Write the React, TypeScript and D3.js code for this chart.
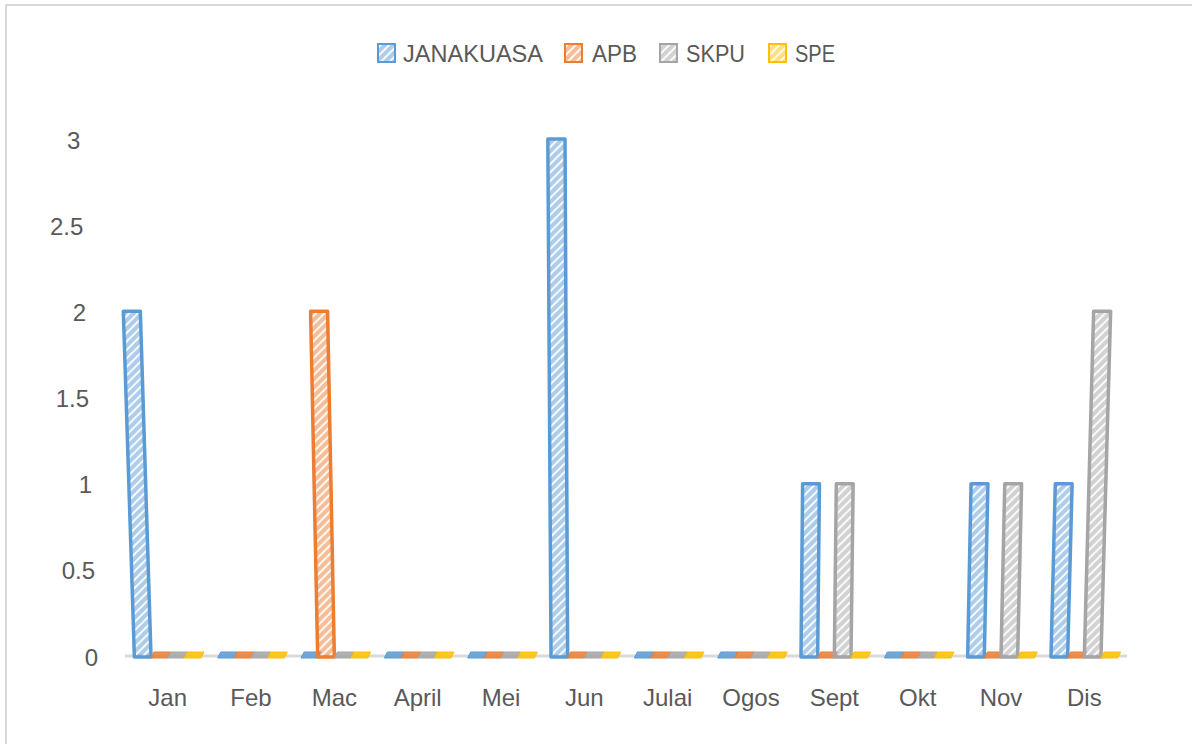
import React from "react";
import * as d3 from "d3";

const months = ["Jan", "Feb", "Mac", "April", "Mei", "Jun", "Julai", "Ogos", "Sept", "Okt", "Nov", "Dis"];
const seriesNames = ["JANAKUASA", "APB", "SKPU", "SPE"];
const janakuasa = [2, 0, 0, 0, 0, 3, 0, 0, 1, 0, 1, 1];
const apb = [0, 0, 2, 0, 0, 0, 0, 0, 0, 0, 0, 0];
const skpu = [0, 0, 0, 0, 0, 0, 0, 0, 1, 0, 1, 2];
const spe = [0, 0, 0, 0, 0, 0, 0, 0, 0, 0, 0, 0];
const yTicks = [0, 0.5, 1, 1.5, 2, 2.5, 3];

const COLORS = ["#5b9bd5", "#ed7d31", "#a5a5a5", "#ffc000"];
const FONT = "'Liberation Sans', Arial, sans-serif";
const TEXT = "#595959";

const W = 1192, H = 744;
const base = 656;

// slight keystone: the old picture leans, tops spread out from the middle
const cx = 650, k = 6.2e-5;
const warp = (x: number, y: number) => cx + (x - cx) * (1 + k * (base - y));

export default function App() {
  const values = [janakuasa, apb, skpu, spe];

  const x = d3.scaleBand<string>().domain(months).range([126, 1126])
    .paddingInner(0.2).paddingOuter(0.1);
  const xs = d3.scaleBand<string>().domain(seriesNames).range([0, x.bandwidth()]);
  const y = d3.scaleLinear().domain([0, 3]).range([base, 139]);

  const legendPos = [
    { sq: 378, tx: 403, w: 140 },
    { sq: 565, tx: 592, w: 45 },
    { sq: 660, tx: 686, w: 59 },
    { sq: 769, tx: 795, w: 40 },
  ];

  const poly = (pts: [number, number][]) => pts.map((p) => p.join(",")).join(" ");

  return (
    <div style={{ position: "absolute", left: 0, top: 0 }}>
      <svg width={W} height={H} style={{ display: "block", background: "#fff" }}>
        <defs>
          {COLORS.map((c, i) => (
            <pattern key={i} id={`hatch${i}`} width={6} height={6}
              patternUnits="userSpaceOnUse" patternTransform="rotate(45)">
              <rect width={6} height={6} fill={c} fillOpacity={0.5} />
              <rect x={0} width={2} height={6} fill="#fff" fillOpacity={0.9} />
            </pattern>
          ))}
        </defs>

        <rect x={6} y={5} width={W + 20} height={H + 20} fill="none" stroke="#d9d9d9" strokeWidth={2} />

        {seriesNames.map((s, i) => (
          <g key={s}>
            <rect x={legendPos[i].sq} y={44} width={17} height={18}
              fill={`url(#hatch${i})`} stroke={COLORS[i]} strokeWidth={2} />
            <text x={legendPos[i].tx} y={53} dominantBaseline="central" fontFamily={FONT}
              fontSize={24} fill={TEXT} textLength={legendPos[i].w} lengthAdjust="spacingAndGlyphs">
              {s}
            </text>
          </g>
        ))}

        {yTicks.map((t) => (
          <text key={t} x={warp(98, y(t))} y={y(t) + 1} textAnchor="end" dominantBaseline="central"
            fontFamily={FONT} fontSize={24} fill={TEXT}>
            {t}
          </text>
        ))}

        <line x1={125} x2={1127} y1={base} y2={base} stroke="#d9d9d9" strokeWidth={3} />

        {months.map((m, mi) => (
          <g key={m}>
            {seriesNames.map((s, si) => {
              const v = values[si][mi];
              const x0 = (x(m) ?? 0) + (xs(s) ?? 0);
              const x1 = x0 + xs.bandwidth();
              if (v === 0) {
                const yb = base + 2, yt = base - 4;
                return (
                  <polygon key={s}
                    points={poly([[x0, yb], [x1, yb], [x1 + 3, yt], [x0 + 3, yt]])}
                    fill={COLORS[si]} fillOpacity={0.85} stroke={COLORS[si]} strokeWidth={1} />
                );
              }
              const yb = base + 1, yt = y(v);
              return (
                <polygon key={s}
                  points={poly([[warp(x0, yb), yb], [warp(x1, yb), yb], [warp(x1, yt), yt], [warp(x0, yt), yt]])}
                  fill={`url(#hatch${si})`} stroke={COLORS[si]} strokeWidth={3.5} strokeLinejoin="round" />
              );
            })}
            <text x={(x(m) ?? 0) + x.bandwidth() / 2} y={697} textAnchor="middle" dominantBaseline="central"
              fontFamily={FONT} fontSize={24} fill={TEXT}>
              {m}
            </text>
          </g>
        ))}
      </svg>
    </div>
  );
}
